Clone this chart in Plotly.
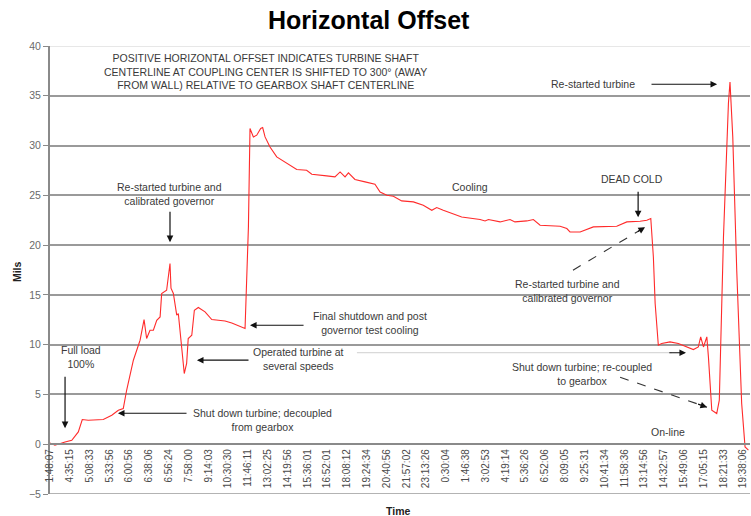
import plotly.graph_objects as go

# ---------------- data ----------------
time_labels = [
    "1:48:07", "4:35:15", "5:08:33", "5:33:56", "6:00:56", "6:38:06", "6:56:24",
    "7:58:00", "9:14:03", "10:30:30", "11:46:11", "13:02:25", "14:19:56",
    "15:36:01", "16:52:01", "18:08:12", "19:24:34", "20:40:56", "21:57:02",
    "23:13:26", "0:30:04", "1:46:38", "3:02:53", "4:19:14", "5:36:26",
    "6:52:06", "8:09:05", "9:25:31", "10:41:34", "11:58:36", "13:14:56",
    "14:32:57", "15:49:06", "17:05:15", "18:21:33", "19:38:06",
]

# position along the time axis, in label intervals
sample_pos = [
    0.00, 0.25, 0.76, 1.10, 1.43, 1.63, 1.93, 2.69, 3.12, 3.45, 3.70, 3.87,
    4.21, 4.55, 4.75, 4.88, 5.05, 5.22, 5.39, 5.56, 5.64, 5.89, 6.06, 6.11,
    6.23, 6.40, 6.48, 6.65, 6.78, 6.90, 6.98, 7.16, 7.29, 7.49, 7.83, 8.17,
    8.84, 9.18, 9.68, 9.85, 10.02, 10.10, 10.27, 10.44, 10.64, 10.74, 10.86,
    11.11, 11.45, 11.95, 12.46, 12.96, 13.22, 13.97, 14.39, 14.65, 14.90,
    15.07, 15.40, 15.91, 16.41, 16.67, 17.01, 17.34, 17.76, 18.35, 18.85,
    19.28, 19.53, 19.86, 20.20, 20.79, 21.72, 21.97, 22.14, 22.73, 23.23,
    23.48, 24.08, 24.41, 24.75, 25.76, 26.10, 26.26, 26.77, 27.02, 27.27,
    27.44, 28.62, 29.13, 29.80, 30.14, 30.34, 30.47, 30.56, 30.72, 30.89,
    31.31, 31.73, 32.16, 32.49, 32.74, 32.86, 33.00, 33.17, 33.25, 33.42,
    33.67, 33.80, 34.01, 34.26, 34.34, 34.48, 34.68, 34.93, 35.10, 35.27,
]
offset_mils = [
    0.13, -0.10, 0.23, 0.40, 1.24, 2.48, 2.41, 2.48, 2.91, 3.41, 3.59, 5.42,
    8.44, 10.45, 12.52, 10.62, 11.45, 11.45, 12.45, 12.79, 15.14, 15.47, 18.15, 15.67,
    15.14, 12.96, 13.13, 9.44, 7.10, 8.11, 10.62, 10.95, 13.46, 13.73, 13.29, 12.52,
    12.38, 12.18, 11.78, 11.62, 21.83, 31.71, 30.87, 31.04, 31.71, 31.81, 30.87,
    29.86, 28.86, 28.19, 27.59, 27.52, 27.12, 26.95, 26.85, 27.35, 26.85,
    27.25, 26.59, 26.35, 26.11, 25.34, 25.01, 24.91, 24.44, 24.34, 24.01,
    23.50, 23.77, 23.50, 23.23, 22.83, 22.57, 22.43, 22.57, 22.33, 22.57,
    22.33, 22.43, 22.57, 22.00, 21.90, 21.66, 21.32, 21.32, 21.49, 21.66,
    21.83, 21.90, 22.33, 22.40, 22.50, 22.67, 18.81, 14.13, 9.94, 10.11,
    10.28, 10.11, 9.77, 9.51, 9.77, 10.78, 9.77, 10.78, 8.77, 3.41,
    3.08, 4.42, 20.82, 34.22, 36.39, 30.87, 17.48, 4.09, -0.27, -0.60,
]

y_ticks = [-5, 0, 5, 10, 15, 20, 25, 30, 35, 40]

# ---------------- figure ----------------
TXT = "#3a3a3a"
FONT = "Liberation Sans, Arial, sans-serif"
NOTE_SIZE = 10.5

fig = go.Figure()
fig.add_trace(go.Scatter(
    x=sample_pos, y=offset_mils, mode="lines",
    line=dict(color="#ff2b2b", width=1.1),
    hoverinfo="skip", showlegend=False,
))

annotations = []
shapes = []

# frame lines at the top and bottom of the value range
shapes.append(dict(type="line", xref="paper", yref="y", x0=0, x1=1, y0=40, y1=40,
                   line=dict(color="#d0d0d0", width=1), layer="below"))
shapes.append(dict(type="line", xref="paper", yref="y", x0=0, x1=1, y0=-5, y1=-5,
                   line=dict(color="#9a9a9a", width=1.5), layer="below"))


def note(x, y, text, size=NOTE_SIZE):
    annotations.append(dict(
        x=x, y=y, xref="x", yref="y", text=text,
        showarrow=False, align="center", xanchor="center", yanchor="middle",
        font=dict(family=FONT, size=size, color=TXT),
    ))


def arrow(x_tail, y_tail, x_head, y_head, color="#111111"):
    annotations.append(dict(
        x=x_head, y=y_head, ax=x_tail, ay=y_tail,
        xref="x", yref="y", axref="x", ayref="y",
        text="", showarrow=True, arrowhead=2, arrowsize=1.1,
        arrowwidth=1.2, arrowcolor=color,
    ))


def dashed_arrow(x_tail, y_tail, x_head, y_head):
    shapes.append(dict(
        type="line", xref="x", yref="y", x0=x_tail, y0=y_tail,
        x1=x_head, y1=y_head, line=dict(color="#333333", width=1.1, dash="dash"),
    ))
    f = 0.12
    arrow(x_head - f * (x_head - x_tail), y_head - f * (y_head - y_tail), x_head, y_head)


note(10.86, 37.46,
     "POSITIVE HORIZONTAL OFFSET INDICATES TURBINE SHAFT<br>"
     "CENTERLINE AT COUPLING CENTER IS SHIFTED TO 300° (AWAY<br>"
     "FROM WALL) RELATIVE TO GEARBOX SHAFT CENTERLINE")

note(6.01, 25.11, "Re-started turbine and<br>calibrated governor")
arrow(6.06, 23.5, 6.06, 20.29)

note(1.55, 8.74, "Full load<br>100%")
arrow(0.76, 6.93, 0.76, 1.61)

note(10.75, 2.41, "Shut down turbine; decoupled<br>from gearbox")
arrow(6.97, 3.11, 3.43, 3.11)

note(12.53, 8.54, "Operated turbine at<br>several speeds")
arrow(10.10, 8.44, 7.42, 8.44)
shapes.append(dict(type="line", xref="x", yref="y", x0=15.5, y0=9.19, x1=31.4, y1=9.19,
                   line=dict(color="#cfcfcf", width=1)))
arrow(31.2, 9.19, 32.12, 9.19)

note(16.16, 12.15, "Final shutdown and post<br>governor test cooling")
arrow(12.88, 11.95, 10.10, 11.95)

note(21.21, 25.81, "Cooling")

note(29.39, 26.62, "DEAD COLD")
arrow(29.70, 25.51, 29.70, 22.80)

note(26.11, 15.37, "Re-started turbine and<br>calibrated governor")
dashed_arrow(26.41, 17.48, 30.05, 21.80)

note(27.42, 36.16, "Re-started turbine")
arrow(30.30, 36.16, 33.69, 36.16)

note(26.87, 7.03, "Shut down turbine; re-coupled<br>to gearbox")
dashed_arrow(28.79, 6.73, 33.18, 3.72)

note(31.21, 1.21, "On-line")

# axis titles
annotations.append(dict(
    x=-0.047, y=0.4955, xref="paper", yref="paper", text="<b>Mils</b>",
    textangle=-90, showarrow=False, xanchor="center", yanchor="middle",
    font=dict(family=FONT, size=10.5, color="#222222"),
))
annotations.append(dict(
    x=0.497, y=-0.038, xref="paper", yref="paper", text="<b>Time</b>",
    showarrow=False, xanchor="center", yanchor="middle",
    font=dict(family=FONT, size=10.5, color="#222222"),
))

fig.update_layout(
    width=751, height=516,
    margin=dict(l=50, r=1, t=46, b=22),
    paper_bgcolor="white", plot_bgcolor="white",
    title=dict(text="<b>Horizontal Offset</b>", x=0.491, xanchor="center",
               y=0.961, yanchor="middle",
               font=dict(family=FONT, size=25, color="#000000")),
    annotations=annotations,
    shapes=shapes,
    xaxis=dict(
        range=[0, 35.35], tickmode="array",
        tickvals=list(range(len(time_labels))), ticktext=time_labels,
        tickangle=-90, tickfont=dict(family=FONT, size=10, color="#4a4a4a"),
        anchor="free", position=5 / 45, side="bottom",
        showline=True, linecolor="#8a8a8a", linewidth=2,
        showgrid=False, zeroline=False, ticks="", automargin=False,
    ),
    yaxis=dict(
        range=[-5, 40], tickmode="array", tickvals=y_ticks,
        tickfont=dict(family=FONT, size=10.5, color="#6a6a6a"),
        showline=True, linecolor="#8a8a8a", linewidth=2,
        showgrid=True, gridcolor="#9a9a9a", gridwidth=1.5,
        ticks="outside", ticklen=5, tickcolor="#8a8a8a",
        zeroline=False, automargin=False,
    ),
)

fig.write_html(
    "out.html",
    config={"displayModeBar": False},
    post_script="document.body.style.margin='0px';document.body.style.overflow='hidden';",
)
